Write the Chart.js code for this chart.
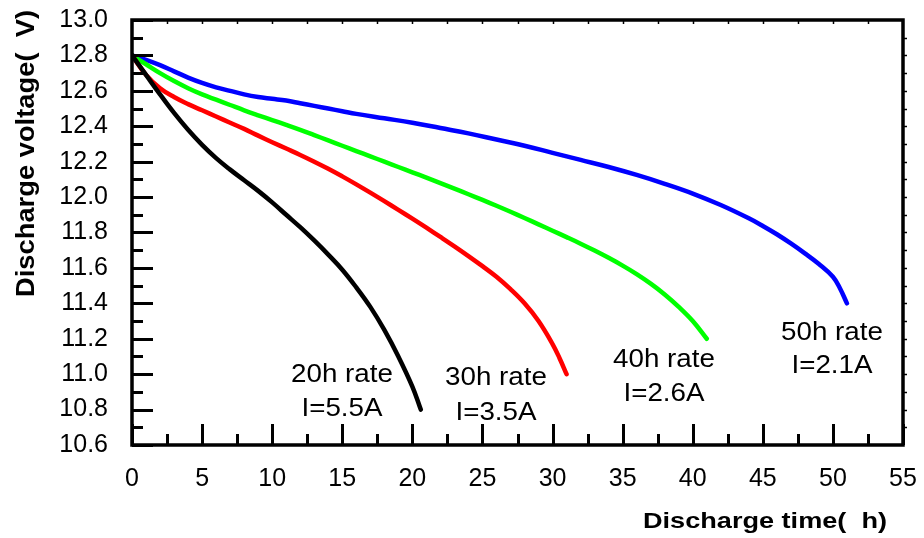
<!DOCTYPE html>
<html>
<head>
<meta charset="utf-8">
<script src="https://cdn.jsdelivr.net/npm/chart.js@4/dist/chart.umd.min.js"></script>
<style>
  html, body { margin: 0; padding: 0; background: #ffffff; }
  #wrap { width: 924px; height: 538px; }
</style>
</head>
<body>
<div id="wrap"><canvas id="c" width="924" height="538"></canvas></div>
<script>
// ---- data ----
const seriesNames = ["20h rate", "30h rate", "40h rate", "50h rate"];
const currentLabels = ["I=5.5A", "I=3.5A", "I=2.6A", "I=2.1A"];

const hours20 = [0, 1, 2, 3, 4, 5, 6, 7, 8, 9, 10, 11, 12, 13, 14, 15, 16, 17, 18, 19, 20, 20.6];
const volts20 = [12.80, 12.69, 12.58, 12.475, 12.38, 12.295, 12.22, 12.155, 12.095, 12.035, 11.97, 11.90, 11.83, 11.755, 11.675, 11.59, 11.49, 11.38, 11.25, 11.10, 10.93, 10.80];

const hours30 = [0, 1, 2, 3, 4, 5, 6, 7, 8, 9, 10, 11, 12, 13, 14, 15, 16, 17, 18, 19, 20, 21, 22, 23, 24, 25, 26, 27, 28, 29, 30, 30.5, 31];
const volts30 = [12.80, 12.69, 12.615, 12.565, 12.525, 12.49, 12.455, 12.42, 12.385, 12.347, 12.31, 12.274, 12.238, 12.20, 12.16, 12.117, 12.072, 12.025, 11.977, 11.928, 11.878, 11.827, 11.775, 11.722, 11.667, 11.61, 11.55, 11.48, 11.40, 11.30, 11.17, 11.09, 11.00];

const hours40 = [0, 1, 2, 3, 4, 5, 6, 7, 8, 9, 10, 11, 12, 13, 14, 15, 16, 17, 18, 19, 20, 21, 22, 23, 24, 25, 26, 27, 28, 29, 30, 31, 32, 33, 34, 35, 36, 37, 38, 39, 40, 41];
const volts40 = [12.80, 12.75, 12.70, 12.655, 12.615, 12.58, 12.55, 12.52, 12.49, 12.462, 12.435, 12.408, 12.38, 12.35, 12.32, 12.29, 12.26, 12.23, 12.20, 12.17, 12.14, 12.11, 12.079, 12.048, 12.016, 11.984, 11.951, 11.917, 11.882, 11.846, 11.81, 11.774, 11.737, 11.698, 11.657, 11.613, 11.565, 11.511, 11.45, 11.38, 11.30, 11.20];

const hours50 = [0, 1, 2, 3, 4, 5, 6, 7, 8, 9, 10, 11, 12, 13, 14, 15, 16, 18, 20, 22, 24, 26, 28, 30, 32, 34, 36, 38, 40, 42, 44, 45, 46, 47, 48, 49, 50, 50.5, 51];
const volts50 = [12.80, 12.775, 12.745, 12.71, 12.675, 12.645, 12.62, 12.60, 12.58, 12.565, 12.555, 12.545, 12.53, 12.515, 12.50, 12.485, 12.47, 12.445, 12.42, 12.39, 12.36, 12.325, 12.29, 12.25, 12.21, 12.17, 12.125, 12.075, 12.02, 11.955, 11.88, 11.837, 11.79, 11.738, 11.682, 11.622, 11.55, 11.485, 11.40];

const xTicksMin = 0, xTicksMax = 55, xTickStep = 5;
const yTicksMin = 10.6, yTicksMax = 13.0, yTickStep = 0.2;

// ---- styles / layout (kept separate from data) ----
const lineColors = ["#000000", "#ff0000", "#00ff00", "#0000ff"];
const labelPos = [ // pixel anchors: [centerX, baseline line1, baseline line2]
  [342, 382, 416],
  [496, 385, 420],
  [664, 367, 401],
  [832, 340, 373]
];

function pts(xs, ys) { return xs.map((x, i) => ({ x: x, y: ys[i] })); }
const seriesData = [pts(hours20, volts20), pts(hours30, volts30), pts(hours40, volts40), pts(hours50, volts50)];

function drawScaledText(ctx, text, x, y, font, sx, align) {
  ctx.save();
  ctx.font = font;
  ctx.fillStyle = "#000";
  ctx.textBaseline = "alphabetic";
  ctx.textAlign = align;
  ctx.translate(x, y);
  ctx.scale(sx, 1);
  ctx.fillText(text, 0, 0);
  ctx.restore();
}

const framePlugin = {
  id: "frame",
  afterDatasetsDraw(chart) {
    const ctx = chart.ctx;
    const a = chart.chartArea;
    const xs = chart.scales.x, ys = chart.scales.y;
    ctx.save();
    ctx.strokeStyle = "#000";
    ctx.lineCap = "butt";
    ctx.lineWidth = 3;
    for (let k = 0; k <= 24; k++) {
      const v = yTicksMin + k * 0.1;
      const py = Math.round(ys.getPixelForValue(v)) + 0.5;
      const len = (k % 2 === 0) ? 21 : 11;
      ctx.beginPath(); ctx.moveTo(a.left, py); ctx.lineTo(a.left + len, py); ctx.stroke();
    }
    for (let k = 0; k <= 22; k++) {
      const v = k * 2.5;
      const px = Math.round(xs.getPixelForValue(v)) + 0.5;
      const len = (k % 2 === 0) ? 21 : 11;
      ctx.beginPath(); ctx.moveTo(px, a.bottom); ctx.lineTo(px, a.bottom - len); ctx.stroke();
    }
    ctx.lineWidth = 1.5;
    for (let k = 1; k < 22; k++) {
      const px = Math.round(xs.getPixelForValue(k * 2.5)) + 0.5;
      ctx.beginPath(); ctx.moveTo(px, a.top); ctx.lineTo(px, a.top + 4); ctx.stroke();
    }
    for (let k = 1; k < 24; k++) {
      const py = Math.round(ys.getPixelForValue(yTicksMin + k * 0.1)) + 0.5;
      ctx.beginPath(); ctx.moveTo(a.right, py); ctx.lineTo(a.right + 4, py); ctx.stroke();
    }
    ctx.lineWidth = 3.5;
    ctx.beginPath();
    ctx.rect(a.left, a.top, a.right - a.left, a.bottom - a.top);
    ctx.stroke();
    ctx.restore();

    for (let i = 0; i < seriesNames.length; i++) {
      const p = labelPos[i];
      drawScaledText(ctx, seriesNames[i], p[0], p[1], "25px 'Liberation Sans', Arial, sans-serif", 1.11, "center");
      drawScaledText(ctx, currentLabels[i], p[0], p[2], "25px 'Liberation Sans', Arial, sans-serif", 1.11, "center");
    }
    ctx.save();
    ctx.font = "bold 22px 'Liberation Sans', Arial, sans-serif";
    const xt = "Discharge time(  h)";
    const xw = ctx.measureText(xt).width;
    ctx.restore();
    drawScaledText(ctx, xt, 887, 528, "bold 22px 'Liberation Sans', Arial, sans-serif", 244 / xw, "right");

    ctx.save();
    ctx.font = "bold 25px 'Liberation Sans', Arial, sans-serif";
    const yt = "Discharge voltage(  V)";
    const yw = ctx.measureText(yt).width;
    ctx.translate(34, 153.5);
    ctx.rotate(-Math.PI / 2);
    ctx.scale(287 / yw, 1);
    ctx.fillStyle = "#000";
    ctx.textAlign = "center";
    ctx.textBaseline = "alphabetic";
    ctx.fillText(yt, 0, 0);
    ctx.restore();
  }
};

function fixScale(w, h) {
  return function (scale) {
    if (w !== null) scale.width = w;
    if (h !== null) scale.height = h;
    scale.paddingTop = 0; scale.paddingBottom = 0;
    scale.paddingLeft = 0; scale.paddingRight = 0;
  };
}

new Chart(document.getElementById("c"), {
  type: "scatter",
  data: {
    datasets: seriesData.map((d, i) => ({
      label: seriesNames[i],
      data: d,
      showLine: true,
      borderColor: lineColors[i],
      backgroundColor: lineColors[i],
      borderWidth: 4.5,
      pointRadius: 0,
      pointHoverRadius: 0,
      tension: 0.4,
      borderCapStyle: "round",
      borderJoinStyle: "round",
      fill: false
    }))
  },
  options: {
    responsive: false,
    devicePixelRatio: 1,
    animation: false,
    events: [],
    layout: { padding: { top: 20, right: 21, left: 0, bottom: 0 } },
    plugins: { legend: { display: false }, tooltip: { enabled: false }, title: { display: false } },
    scales: {
      x: {
        type: "linear",
        min: xTicksMin, max: xTicksMax,
        grid: { display: false, drawTicks: false },
        border: { display: false },
        ticks: {
          stepSize: xTickStep,
          padding: 19,
          color: "#000",
          font: { family: "'Liberation Sans', Arial, sans-serif", size: 25 },
          maxRotation: 0,
          autoSkip: false
        },
        afterFit: fixScale(null, 93)
      },
      y: {
        type: "linear",
        min: yTicksMin, max: yTicksMax,
        grid: { display: false, drawTicks: false },
        border: { display: false },
        ticks: {
          stepSize: yTickStep,
          padding: 24,
          color: "#000",
          font: { family: "'Liberation Sans', Arial, sans-serif", size: 25 },
          autoSkip: false,
          callback: (v) => Number(v).toFixed(1)
        },
        afterFit: fixScale(132, null)
      }
    }
  },
  plugins: [framePlugin]
});
</script>
</body>
</html>
